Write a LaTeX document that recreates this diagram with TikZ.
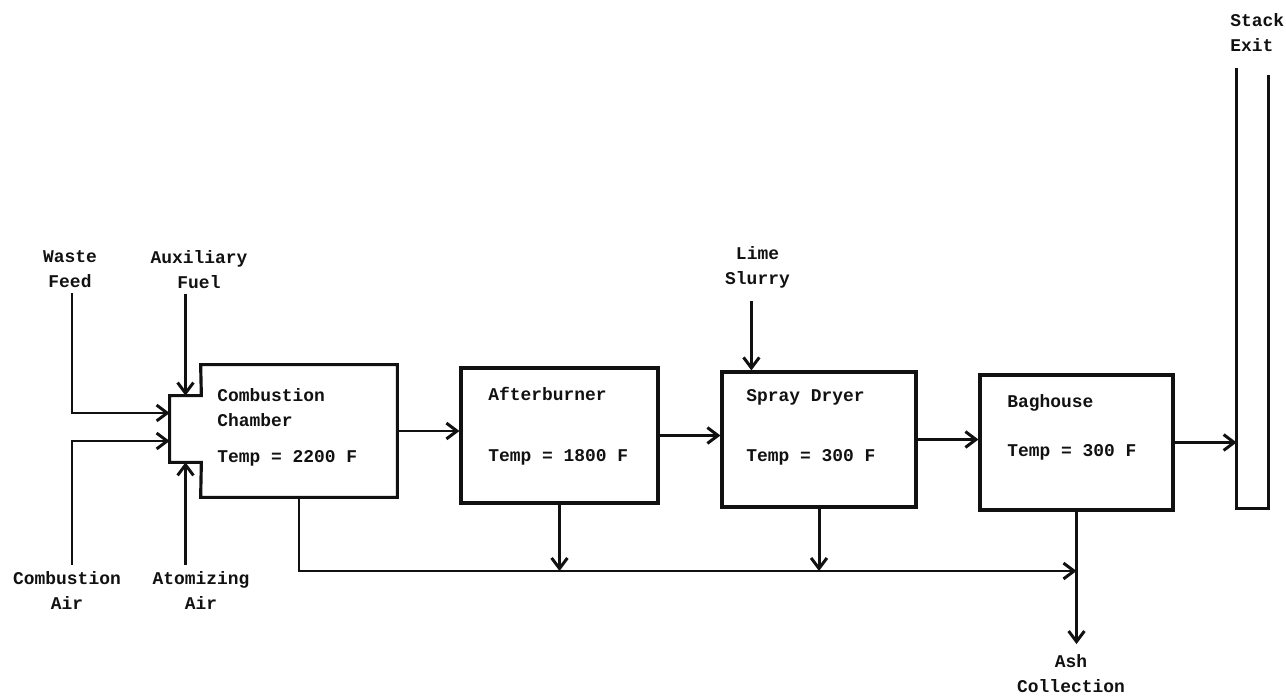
\documentclass[tikz,border=0pt]{standalone}
\usepackage{fontspec}
\setmonofont{Liberation Mono}
\usetikzlibrary{arrows.meta, positioning, calc}
\definecolor{ink}{HTML}{111111}
\tikzset{
  font=\ttfamily\bfseries\fontsize{10.2}{14.2}\selectfont,
  >={Straight Barb[length=6pt, width=9pt]},
  %
  unit/.style={draw=ink, line width=1.8pt, minimum width=3.9cm,
               minimum height=2.7cm, inner sep=0pt},
  hole/.style={draw=none, inner sep=0pt},
  %
  flow/.style={draw=ink, line width=1.7pt, ->},
  pipe/.style={draw=ink, line width=1.8pt},
  %
  lbl/.style={text=ink, inner sep=0pt, align=center},
  txt/.style={text=ink, inner sep=0pt, anchor=west, align=left},
}

\begin{document}
\begin{tikzpicture}[x=1cm, y=1cm]
  \useasboundingbox (0,0) rectangle (25.72,13.94);

  % process units
  \node[hole, minimum width=3.92cm, minimum height=2.64cm] (comb) at (5.98,5.32) {};
  \node[hole, minimum width=0.62cm, minimum height=1.32cm] (nozzle) at (3.71,5.36) {};
  \draw[pipe] (nozzle.north east) -- (comb.north west) -- (comb.north east)
    -- (comb.south east) -- (comb.south west) -- (nozzle.south east)
    -- (nozzle.south west) -- (nozzle.north west) -- cycle;

  \node[unit, minimum width=3.94cm] (after) at (11.19,5.23) {};
  \node[unit, minimum width=3.88cm] (spray) at (16.38,5.15) {};
  \node[unit, minimum width=3.86cm] (bag) at (21.53,5.09) {};

  \node[hole, minimum width=0.62cm, minimum height=8.80cm] (stack) at (25.05,8.17) {};
  \draw[pipe] (stack.north west) -- (stack.south west) -- (stack.south east)
    -- ([yshift=-1.4mm]stack.north east);

  % unit texts
  \node[txt] (combname) at (4.34,5.79) {Combustion\\Chamber};
  \node[txt] (combtemp) at (4.34,4.78) {Temp = 2200 F};
  \node[txt] (aftername) at (9.76,6.06) {Afterburner};
  \node[txt] (aftertemp) at (9.76,4.80) {Temp = 1800 F};
  \node[txt] (sprayname) at (14.92,6.00) {Spray Dryer};
  \node[txt] (spraytemp) at (14.92,4.80) {Temp = 300 F};
  \node[txt] (bagname) at (20.14,5.88) {Baghouse};
  \node[txt] (bagtemp) at (20.14,4.90) {Temp = 300 F};

  % streams in and out
  \node[lbl] (waste) at (1.40,8.55) {Waste\\Feed};
  \node[lbl] (aux) at (3.98,8.55) {Auxiliary\\Fuel};
  \node[lbl] (combair) at (1.34,2.13) {Combustion\\Air};
  \node[lbl] (atomair) at (4.02,2.13) {Atomizing\\Air};
  \node[lbl] (lime) at (15.15,8.59) {Lime\\Slurry};
  \node[lbl] (ash) at (21.42,0.47) {Ash\\Collection};
  \node[lbl, align=left, anchor=west] (exit) at (24.60,13.29) {Stack\\Exit};

  \draw[flow] ([xshift=0.4mm, yshift=-1mm]waste.south) |- ([yshift=3.2mm]nozzle.west);
  \draw[flow] ([xshift=1mm, yshift=1.3mm]combair.north) |- ([yshift=-2.4mm]nozzle.west);
  \draw[flow] ([yshift=-1mm]nozzle.north |- aux.south) -- (nozzle.north);
  \draw[flow] ([yshift=1.3mm]nozzle.south |- atomair.north) -- (nozzle.south);

  \coordinate (limein) at ([xshift=6.2mm]spray.north west);
  \draw[flow] ([yshift=-2.5mm]limein |- lime.south) -- (limein);

  % gas path
  \draw[flow] (comb.east) -- (comb.east -| after.west);
  \draw[flow] (after.east) -- (after.east -| spray.west);
  \draw[flow] (spray.east) -- (spray.east -| bag.west);
  \draw[flow] (bag.east) -- (bag.east -| stack.west);

  % ash header
  \coordinate (ashjoin) at (bag.south |- 0,2.52);
  \draw[flow] (comb.south) |- (ashjoin);
  \draw[flow] (after.south) -- (after.south |- ashjoin);
  \draw[flow] (spray.south) -- (spray.south |- ashjoin);
  \draw[flow] (bag.south) -- ([yshift=2mm]bag.south |- ash.north);

\end{tikzpicture}
\end{document}
